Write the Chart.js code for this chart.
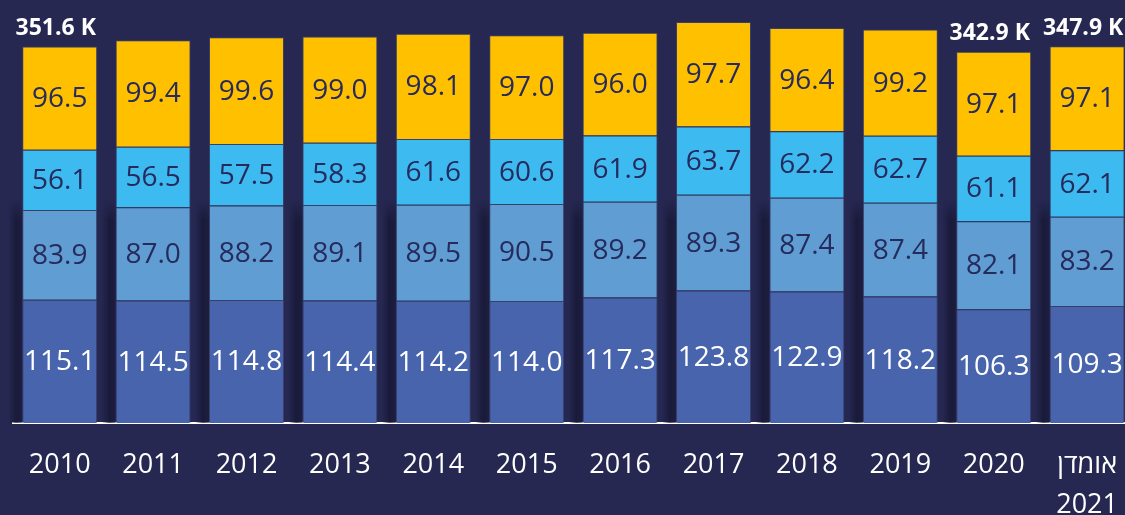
<!DOCTYPE html>
<html lang="he" dir="ltr">
<head>
<meta charset="utf-8">
<script src="https://cdn.jsdelivr.net/npm/chart.js@4.4.1/dist/chart.umd.min.js"></script>
<style>
  html, body { margin: 0; padding: 0; background: #262852; overflow: hidden; }
  #wrap { width: 1140px; height: 515px; position: relative; }
  canvas { display: block; }
</style>
</head>
<body>
<div id="wrap"><canvas id="chart" width="1140" height="515"></canvas></div>
<script>
// categories (last one is two lines: "estimate 2021")
const years = ['2010', '2011', '2012', '2013', '2014', '2015', '2016', '2017', '2018', '2019', '2020', ['אומדן', '2021']];

// series values, bottom to top
const seriesBottom = [115.1, 114.5, 114.8, 114.4, 114.2, 114.0, 117.3, 123.8, 122.9, 118.2, 106.3, 109.3];
const seriesSecond = [83.9, 87.0, 88.2, 89.1, 89.5, 90.5, 89.2, 89.3, 87.4, 87.4, 82.1, 83.2];
const seriesThird  = [56.1, 56.5, 57.5, 58.3, 61.6, 60.6, 61.9, 63.7, 62.2, 62.7, 61.1, 62.1];
const seriesTop    = [96.5, 99.4, 99.6, 99.0, 98.1, 97.0, 96.0, 97.7, 96.4, 99.2, 97.1, 97.1];

// total labels shown above some bars
const totalLabels = ['351.6 K', null, null, null, null, null, null, null, null, null, '342.9 K', '347.9 K'];

const FONT = '"Open Sans", "Noto Sans", sans-serif';
const DARK_TEXT = '#262a5c';

// soft shadow strip left of each bar (lower part of the chart)
const shadowPlugin = {
  id: 'gapShadow',
  beforeDatasetsDraw(chart) {
    const ctx = chart.ctx;
    const meta = chart.getDatasetMeta(0);
    const yScale = chart.scales.y;
    const yTop = yScale.getPixelForValue(208);
    const yBottom = chart.chartArea.bottom;
    ctx.save();
    meta.data.forEach(bar => {
      const left = bar.x - bar.width / 2;
      const x0 = left - 14;
      const g = ctx.createLinearGradient(x0, 0, left, 0);
      g.addColorStop(0, 'rgba(22,22,50,0)');
      g.addColorStop(0.55, 'rgba(22,22,50,0.75)');
      g.addColorStop(1, 'rgba(22,22,50,0.55)');
      ctx.fillStyle = g;
      const fade = 18;
      for (let i = 0; i < fade; i++) {
        ctx.globalAlpha = (i + 1) / fade;
        ctx.fillRect(x0, yTop + i, 14, 1);
      }
      ctx.globalAlpha = 1;
      ctx.fillRect(x0, yTop + fade, 14, yBottom - yTop - fade);
    });
    ctx.restore();
  }
};

// value labels inside each segment + totals above bars
const labelPlugin = {
  id: 'segmentLabels',
  afterDatasetsDraw(chart) {
    const ctx = chart.ctx;
    ctx.save();
    ctx.textAlign = 'center';
    ctx.textBaseline = 'middle';
    chart.data.datasets.forEach((ds, di) => {
      const meta = chart.getDatasetMeta(di);
      meta.data.forEach((bar, i) => {
        const yMid = (bar.y + bar.base) / 2;
        ctx.font = '28px ' + FONT;
        ctx.fillStyle = di === 0 ? '#ffffff' : DARK_TEXT;
        ctx.fillText(ds.data[i].toFixed(1), bar.x, yMid + 1);
      });
    });
    const topMeta = chart.getDatasetMeta(chart.data.datasets.length - 1);
    ctx.font = 'bold 23px ' + FONT;
    ctx.fillStyle = '#ffffff';
    topMeta.data.forEach((bar, i) => {
      if (totalLabels[i]) ctx.fillText(totalLabels[i], bar.x - 4, bar.y - 18);
    });
    ctx.restore();
  }
};

const segBorder = 'rgba(70,80,120,0.6)';

new Chart(document.getElementById('chart'), {
  type: 'bar',
  data: {
    labels: years,
    datasets: [
      { data: seriesBottom, backgroundColor: '#4864ac', borderColor: segBorder, borderWidth: 1 },
      { data: seriesSecond, backgroundColor: '#5f9dd2', borderColor: segBorder, borderWidth: 1 },
      { data: seriesThird,  backgroundColor: '#3dbbf0', borderColor: segBorder, borderWidth: 1 },
      { data: seriesTop,    backgroundColor: '#ffc000', borderColor: segBorder, borderWidth: 1 }
    ]
  },
  options: {
    responsive: false,
    animation: false,
    layout: { padding: { left: 13, right: 0, top: 0, bottom: 0 } },
    datasets: { bar: { barPercentage: 0.803, categoryPercentage: 1 } },
    plugins: { legend: { display: false }, tooltip: { enabled: false } },
    scales: {
      x: {
        stacked: true,
        grid: { display: false, drawTicks: false },
        border: { display: true, color: '#ffffff', width: 2 },
        ticks: {
          color: '#ffffff',
          padding: 22,
          maxRotation: 0,
          autoSkip: false,
          font: { family: FONT, size: 27, lineHeight: 1.5 }
        },
        afterFit(scale) { scale.height = 92; }
      },
      y: {
        stacked: true,
        display: false,
        min: 0,
        max: 395
      }
    }
  },
  plugins: [shadowPlugin, labelPlugin]
});
</script>
</body>
</html>
